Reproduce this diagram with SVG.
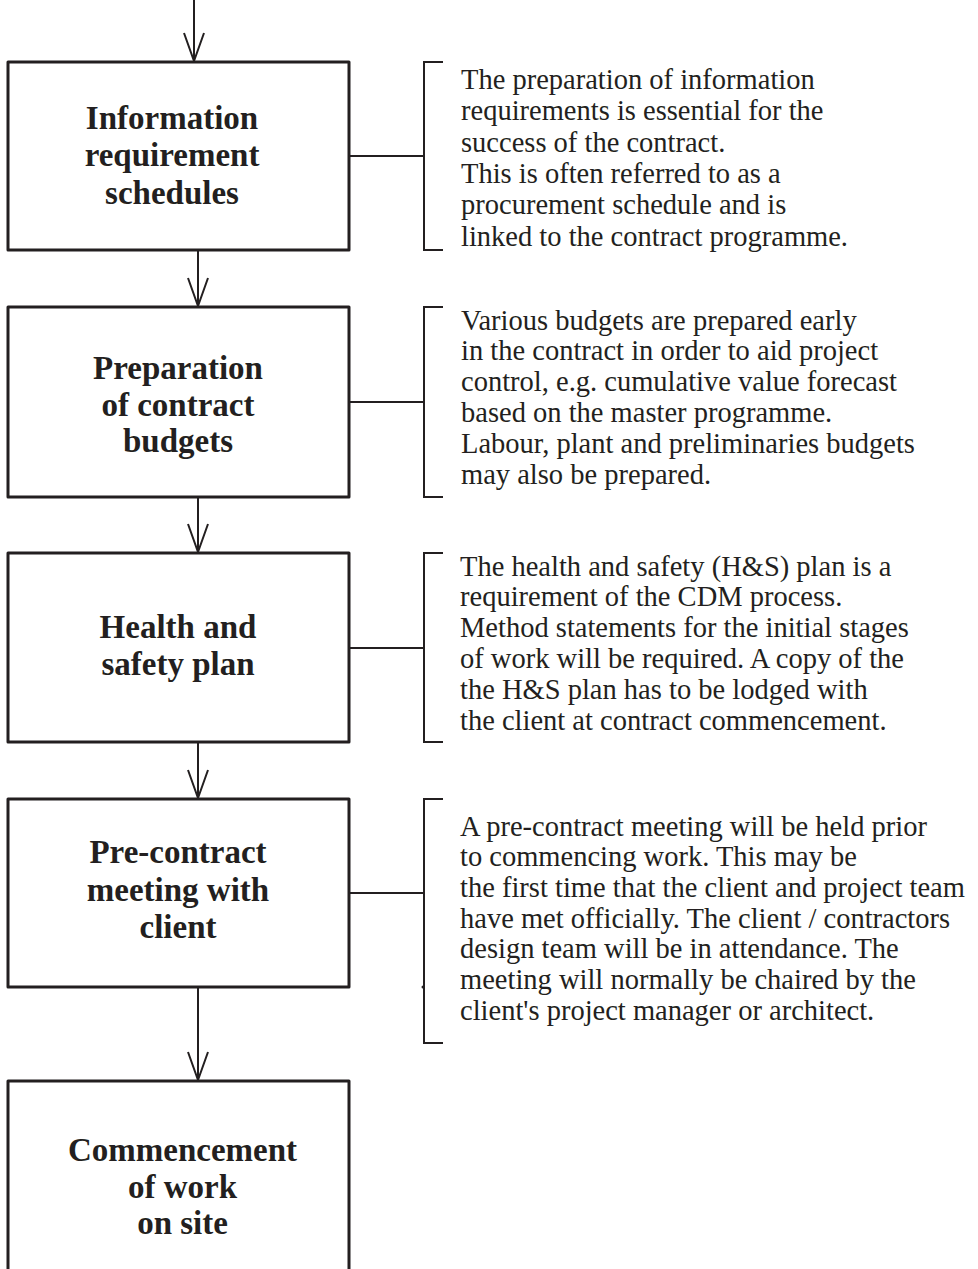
<svg xmlns="http://www.w3.org/2000/svg" width="978" height="1269" viewBox="0 0 978 1269">
  <defs>
    <style>
      .box { fill: #ffffff; stroke: #231f20; stroke-width: 3; stroke-linejoin: round; }
      .title { font-family: "Liberation Serif", "Times New Roman", serif; font-weight: bold; font-size: 33px; fill: #231f20; text-anchor: middle; }
      .note { font-family: "Liberation Serif", "Times New Roman", serif; font-size: 28.5px; fill: #231f20; }
      .flow { stroke: #231f20; stroke-width: 2; fill: none; marker-end: url(#vhead); }
      .link { stroke: #231f20; stroke-width: 2; fill: none; }
      .bracket { stroke: #231f20; stroke-width: 2; fill: none; }
    </style>
    <!-- open V arrowhead used on every flow line -->
    <marker id="vhead" viewBox="-30 -12 32 24" markerWidth="32" markerHeight="24" refX="0" refY="0" orient="auto" markerUnits="userSpaceOnUse">
      <path d="M-28,-10 L0,0 L-28,10" fill="none" stroke="#231f20" stroke-width="2"/>
    </marker>
  </defs>

  <rect x="0" y="0" width="978" height="1269" fill="#ffffff"/>

  <!-- connectors: flow arrows, box-to-note links and note brackets -->
  <g id="connectors">
    <line class="flow" x1="194" y1="0" x2="194" y2="61"/>
    <line class="flow" x1="198" y1="251" x2="198" y2="306"/>
    <line class="flow" x1="198" y1="498" x2="198" y2="552"/>
    <line class="flow" x1="198" y1="743" x2="198" y2="798"/>
    <line class="flow" x1="198" y1="988" x2="198" y2="1080"/>

    <line class="link" x1="350" y1="156" x2="424" y2="156"/>
    <line class="link" x1="350" y1="402" x2="424" y2="402"/>
    <line class="link" x1="350" y1="648" x2="424" y2="648"/>
    <line class="link" x1="350" y1="893" x2="424" y2="893"/>

    <path class="bracket" d="M443,62 H424 V250 H443"/>
    <path class="bracket" d="M443,307 H424 V497 H443"/>
    <path class="bracket" d="M443,553 H424 V742 H443"/>
    <path class="bracket" d="M443,799 H424 V1043 H443"/>
    <circle cx="423" cy="987" r="1.5" fill="#231f20"/>
  </g>

  <g id="node-information">
    <rect class="box" x="8" y="62" width="341" height="188"/>
    <text class="title" x="172" y="128.5">Information</text>
    <text class="title" x="172" y="166">requirement</text>
    <text class="title" x="172" y="203.5">schedules</text>
  </g>

  <g id="note-information">
    <text class="note" x="461" y="89">The preparation of information</text>
    <text class="note" x="461" y="120.3">requirements is essential for the</text>
    <text class="note" x="461" y="151.6">success of the contract.</text>
    <text class="note" x="461" y="183">This is often referred to as a</text>
    <text class="note" x="461" y="214.2">procurement schedule and is</text>
    <text class="note" x="461" y="245.5">linked to the contract programme.</text>
  </g>

  <g id="node-budgets">
    <rect class="box" x="8" y="307" width="341" height="190"/>
    <text class="title" x="178" y="379">Preparation</text>
    <text class="title" x="178" y="415.5">of contract</text>
    <text class="title" x="178" y="452">budgets</text>
  </g>

  <g id="note-budgets">
    <text class="note" x="461" y="329.5">Various budgets are prepared early</text>
    <text class="note" x="461" y="360.3">in the contract in order to aid project</text>
    <text class="note" x="461" y="391.1">control, e.g. cumulative value forecast</text>
    <text class="note" x="461" y="421.9">based on the master programme.</text>
    <text class="note" x="461" y="452.7">Labour, plant and preliminaries budgets</text>
    <text class="note" x="461" y="483.5">may also be prepared.</text>
  </g>

  <g id="node-health-safety">
    <rect class="box" x="8" y="553" width="341" height="189"/>
    <text class="title" x="178" y="638">Health and</text>
    <text class="title" x="178" y="675">safety plan</text>
  </g>

  <g id="note-health-safety">
    <text class="note" x="460" y="575.5">The health and safety (H&amp;S) plan is a</text>
    <text class="note" x="460" y="606.3">requirement of the CDM process.</text>
    <text class="note" x="460" y="637.1">Method statements for the initial stages</text>
    <text class="note" x="460" y="667.9">of work will be required. A copy of the</text>
    <text class="note" x="460" y="698.7">the H&amp;S plan has to be lodged with</text>
    <text class="note" x="460" y="729.5">the client at contract commencement.</text>
  </g>

  <g id="node-pre-contract">
    <rect class="box" x="8" y="799" width="341" height="188"/>
    <text class="title" x="178" y="863">Pre-contract</text>
    <text class="title" x="178" y="900.5">meeting with</text>
    <text class="title" x="178" y="938">client</text>
  </g>

  <g id="note-pre-contract">
    <text class="note" x="460" y="835.5">A pre-contract meeting will be held prior</text>
    <text class="note" x="460" y="866.2">to commencing work. This may be</text>
    <text class="note" x="460" y="896.9">the first time that the client and project team</text>
    <text class="note" x="460" y="927.6">have met officially. The client / contractors</text>
    <text class="note" x="460" y="958.3">design team will be in attendance. The</text>
    <text class="note" x="460" y="989">meeting will normally be chaired by the</text>
    <text class="note" x="460" y="1019.7">client's project manager or architect.</text>
  </g>

  <g id="node-commencement">
    <rect class="box" x="8" y="1081" width="341" height="220"/>
    <text class="title" x="182.5" y="1160.5">Commencement</text>
    <text class="title" x="182.5" y="1198">of work</text>
    <text class="title" x="182.5" y="1234">on site</text>
  </g>
</svg>
